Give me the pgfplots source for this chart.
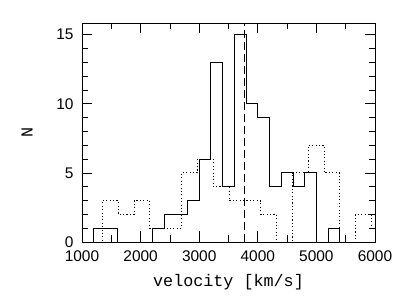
\documentclass[border=0pt]{standalone}
\usepackage{fontspec}
\setmainfont{Liberation Sans}
\newfontfamily\labfont{Liberation Mono}
\usepackage{pgfplots}
\pgfplotsset{compat=1.18}
\begin{document}
\begin{tikzpicture}
\begin{axis}[name=ax, scale only axis, width=293bp, height=219bp,
  xmin=1000, xmax=6000, ymin=0, ymax=15.85,
  xtick={1000,2000,...,6000}, minor xtick={1500,2500,...,5500},
  ytick={0,5,10,15}, minor ytick={1,2,3,4,6,7,8,9,11,12,13,14},
  tick align=inside,
  major tick length=10.5bp, minor tick length=6.5bp,
  every tick/.style={black, line width=0.8pt},
  axis line style={line width=0.9pt},
  scaled x ticks=false,
  /pgf/number format/assume math mode=true,
  /pgf/number format/set thousands separator={},
  tick label style={font=\fontsize{15.5}{18}\selectfont},
  xticklabel style={yshift=-5bp},
  yticklabel style={xshift=-5bp},
  xlabel={velocity [km/s]}, ylabel={N},
  x label style={font=\labfont\fontsize{16.8}{19}\selectfont, at={(axis description cs:0.5,-0.1826)}, anchor=center},
  y label style={font=\labfont\fontsize{16.8}{19}\selectfont, at={(axis description cs:-0.1877,0.5)}, anchor=center, rotate=0},
]
\addplot[const plot mark left, black, line width=0.9pt] coordinates {
(1000,0) (1200,1) (1400,1) (1600,0) (1800,0) (2000,0) (2200,1) (2400,2) (2600,2) (2800,3) (3000,6) (3200,13) (3400,4) (3600,15) (3800,10) (4000,9) (4200,4) (4400,5) (4600,4) (4800,5) (5000,0) (5200,1) (5400,0) (6000,0)};
\addplot[const plot mark left, black, line width=0.9pt, dash pattern=on 1.1bp off 2.3bp] coordinates {
(1077,0) (1347,3) (1617,2) (1887,3) (2158,1) (2428,1) (2698,5) (2968,6) (3239,4) (3509,3) (3779,3) (4049,2) (4319,0) (4590,5) (4860,7) (5130,5) (5400,0) (5670,2) (5940,1) (6100,1)};
\addplot[black, line width=0.9pt, dash pattern=on 8bp off 4bp] coordinates {(3770,0) (3770,15.85)};
\end{axis}
\path ([xshift=-82bp,yshift=-54bp]ax.south west) rectangle ([xshift=40bp,yshift=23bp]ax.north east);
\end{tikzpicture}
\end{document}
